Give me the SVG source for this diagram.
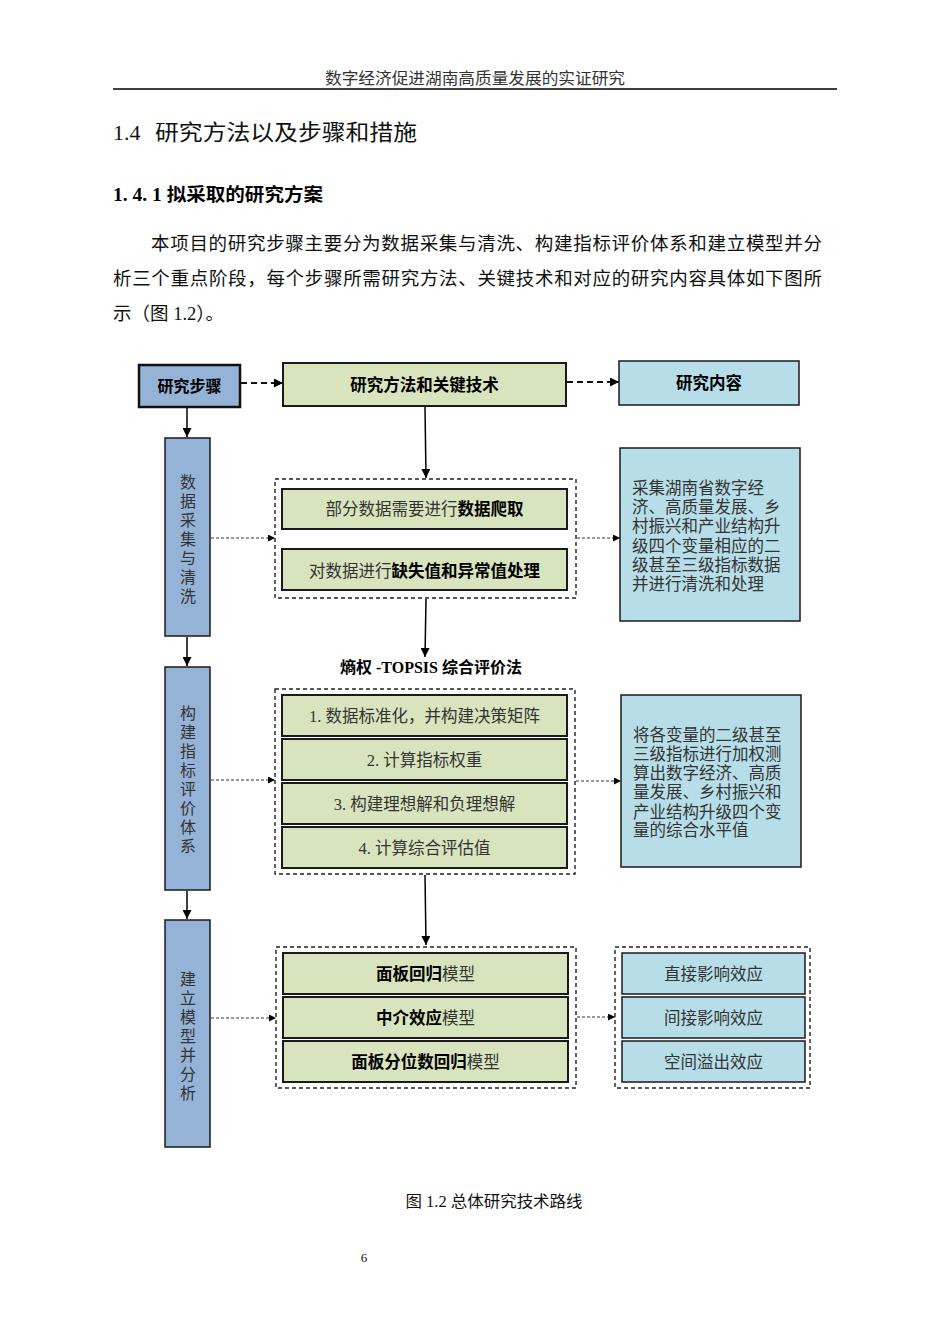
<svg xmlns="http://www.w3.org/2000/svg" width="950" height="1344" viewBox="0 0 950 1344">
<defs>
<style>
.t{font-family:"Liberation Serif","Noto Sans CJK SC",serif;fill:#111}
.b{font-family:"Liberation Serif","Noto Sans CJK SC",sans-serif;font-weight:bold;fill:#000}
.n{font-family:"Liberation Serif","Noto Sans CJK SC",serif;fill:#333}
.step{fill:#95B3D7;stroke:#1a1a1a;stroke-width:1.5}
.hdr{stroke:#111;stroke-width:2.5}
.green{fill:#D7E4BD;stroke:#1a1a1a;stroke-width:2}
.cyan{fill:#B7DEE8;stroke:#1a1a1a;stroke-width:1.5}
.grp{fill:none;stroke:#222;stroke-width:1.4;stroke-dasharray:4 3}
.solid{stroke:#000;stroke-width:1.5;fill:none}
.dash{stroke:#111;stroke-width:2;stroke-dasharray:6 4;fill:none}
.dot{stroke:#333;stroke-width:1.1;stroke-dasharray:3 2;fill:none}
</style>
<marker id="ah" viewBox="0 0 10 10" refX="10" refY="5" markerWidth="7" markerHeight="7" markerUnits="userSpaceOnUse" orient="auto"><path d="M0,0L10,5L0,10z" fill="#000"/></marker>
<marker id="ah2" viewBox="0 0 10 10" refX="10" refY="5" markerWidth="9" markerHeight="9" markerUnits="userSpaceOnUse" orient="auto"><path d="M0,0L10,5L0,10z" fill="#000"/></marker>
</defs>
<rect width="950" height="1344" fill="#fff"/>

<g id="page">
<text class="n" x="475" y="84" font-size="16" text-anchor="middle" textLength="300" lengthAdjust="spacingAndGlyphs">数字经济促进湖南高质量发展的实证研究</text>
<line x1="113" y1="89" x2="837" y2="89" stroke="#000" stroke-width="1.5"/>
<text class="t" x="113" y="140" font-size="22">1.4</text>
<text class="t" x="155" y="140" font-size="22" textLength="262" lengthAdjust="spacingAndGlyphs">研究方法以及步骤和措施</text>
<text class="b" x="113" y="201" font-size="18" textLength="210" lengthAdjust="spacingAndGlyphs">1. 4. 1  拟采取的研究方案</text>
<text class="t" x="151" y="250" font-size="18.5" textLength="671" lengthAdjust="spacing">本项目的研究步骤主要分为数据采集与清洗、构建指标评价体系和建立模型并分</text>
<text class="t" x="113" y="285" font-size="18.5" textLength="709" lengthAdjust="spacing">析三个重点阶段，每个步骤所需研究方法、关键技术和对应的研究内容具体如下图所</text>
<text class="t" x="113" y="320" font-size="18.5">示（图 1.2）。</text>
<text class="t" x="494" y="1207" font-size="16" text-anchor="middle" textLength="177" lengthAdjust="spacingAndGlyphs">图 1.2 总体研究技术路线</text>
<text class="t" x="364" y="1262" font-size="13" text-anchor="middle">6</text>
</g>

<g id="connectors">
<line class="dash" x1="241" y1="383" x2="283" y2="383" marker-end="url(#ah2)"/>
<line class="dash" x1="567" y1="382" x2="619" y2="382" marker-end="url(#ah2)"/>
<line class="solid" x1="187" y1="408" x2="187" y2="437" marker-end="url(#ah2)"/>
<line class="solid" x1="187" y1="637" x2="187" y2="666" marker-end="url(#ah2)"/>
<line class="solid" x1="187" y1="891" x2="187" y2="919" marker-end="url(#ah2)"/>
<line class="solid" x1="425" y1="407" x2="426" y2="478" marker-end="url(#ah2)"/>
<line class="solid" x1="426" y1="599" x2="425" y2="657" marker-end="url(#ah2)"/>
<line class="solid" x1="425" y1="875" x2="426" y2="945" marker-end="url(#ah2)"/>
<line class="dot" x1="211" y1="538" x2="275" y2="538" marker-end="url(#ah)"/>
<line class="dot" x1="577" y1="538" x2="620" y2="538" marker-end="url(#ah)"/>
<line class="dot" x1="211" y1="780" x2="275" y2="780" marker-end="url(#ah)"/>
<line class="dot" x1="576" y1="781" x2="621" y2="781" marker-end="url(#ah)"/>
<line class="dot" x1="211" y1="1018" x2="276" y2="1018" marker-end="url(#ah)"/>
<line class="dot" x1="577" y1="1017" x2="615" y2="1017" marker-end="url(#ah)"/>
</g>

<g id="n-steps-head">
<rect class="step hdr" x="139" y="365" width="101" height="42"/>
<text class="b" x="189.5" y="392" font-size="16" text-anchor="middle">研究步骤</text>
</g>
<g id="n-methods-head">
<rect class="green hdr" x="283" y="363" width="283" height="43"/>
<text class="b" x="424.5" y="391" font-size="16.5" text-anchor="middle">研究方法和关键技术</text>
</g>
<g id="n-content-head">
<rect class="cyan hdr" x="619" y="361" width="180" height="44"/>
<text class="b" x="709" y="389" font-size="16.5" text-anchor="middle">研究内容</text>
</g>

<g id="n-step1">
<rect class="step" x="165" y="438" width="45" height="198"/>
<text class="n" x="188" font-size="16" text-anchor="middle"><tspan x="188" y="488">数</tspan><tspan x="188" y="507">据</tspan><tspan x="188" y="526">采</tspan><tspan x="188" y="545">集</tspan><tspan x="188" y="564">与</tspan><tspan x="188" y="583">清</tspan><tspan x="188" y="602">洗</tspan></text>
</g>
<g id="n-step2">
<rect class="step" x="165" y="667" width="45" height="223"/>
<text class="n" x="188" font-size="16" text-anchor="middle"><tspan x="188" y="719">构</tspan><tspan x="188" y="738">建</tspan><tspan x="188" y="757">指</tspan><tspan x="188" y="776">标</tspan><tspan x="188" y="795">评</tspan><tspan x="188" y="814">价</tspan><tspan x="188" y="833">体</tspan><tspan x="188" y="852">系</tspan></text>
</g>
<g id="n-step3">
<rect class="step" x="165" y="920" width="45" height="227"/>
<text class="n" x="188" font-size="16" text-anchor="middle"><tspan x="188" y="985">建</tspan><tspan x="188" y="1004">立</tspan><tspan x="188" y="1023">模</tspan><tspan x="188" y="1042">型</tspan><tspan x="188" y="1061">并</tspan><tspan x="188" y="1080">分</tspan><tspan x="188" y="1099">析</tspan></text>
</g>

<g id="n-group1">
<rect class="grp" x="275" y="479" width="301" height="119"/>
<rect class="green" x="282" y="489" width="285" height="40"/>
<text class="n" x="424.5" y="515" font-size="16.5" text-anchor="middle">部分数据需要进行<tspan class="b">数据爬取</tspan></text>
<rect class="green" x="282" y="549" width="285" height="41"/>
<text class="n" x="424.5" y="577" font-size="16.5" text-anchor="middle">对数据进行<tspan class="b">缺失值和异常值处理</tspan></text>
</g>
<g id="n-content1">
<rect class="cyan" x="620" y="448" width="180" height="173"/>
<text class="n" font-size="16.5"><tspan x="632" y="494">采集湖南省数字经</tspan><tspan x="632" y="513">济、高质量发展、乡</tspan><tspan x="632" y="532">村振兴和产业结构升</tspan><tspan x="632" y="552">级四个变量相应的二</tspan><tspan x="632" y="571">级甚至三级指标数据</tspan><tspan x="632" y="590">并进行清洗和处理</tspan></text>
</g>

<g id="n-topsis-label">
<text class="b" x="431" y="673" font-size="16" text-anchor="middle">熵权 -TOPSIS 综合评价法</text>
</g>
<g id="n-group2">
<rect class="grp" x="275" y="689" width="300" height="185"/>
<rect class="green" x="282" y="695" width="285" height="41"/>
<text class="n" x="424.5" y="722" font-size="16.5" text-anchor="middle">1. 数据标准化，并构建决策矩阵</text>
<rect class="green" x="282" y="739" width="285" height="41"/>
<text class="n" x="424.5" y="766" font-size="16.5" text-anchor="middle">2. 计算指标权重</text>
<rect class="green" x="282" y="783" width="285" height="41"/>
<text class="n" x="424.5" y="810" font-size="16.5" text-anchor="middle">3. 构建理想解和负理想解</text>
<rect class="green" x="282" y="827" width="285" height="41"/>
<text class="n" x="424.5" y="854" font-size="16.5" text-anchor="middle">4. 计算综合评估值</text>
</g>
<g id="n-content2">
<rect class="cyan" x="621" y="695" width="180" height="172"/>
<text class="n" font-size="16.5"><tspan x="633" y="741">将各变量的二级甚至</tspan><tspan x="633" y="760">三级指标进行加权测</tspan><tspan x="633" y="779">算出数字经济、高质</tspan><tspan x="633" y="798">量发展、乡村振兴和</tspan><tspan x="633" y="818">产业结构升级四个变</tspan><tspan x="633" y="836">量的综合水平值</tspan></text>
</g>

<g id="n-group3">
<rect class="grp" x="276" y="947" width="300" height="141"/>
<rect class="green" x="283" y="953" width="285" height="41"/>
<text class="n" x="425.5" y="980" font-size="16.5" text-anchor="middle"><tspan class="b">面板回归</tspan>模型</text>
<rect class="green" x="283" y="997" width="285" height="41"/>
<text class="n" x="425.5" y="1024" font-size="16.5" text-anchor="middle"><tspan class="b">中介效应</tspan>模型</text>
<rect class="green" x="283" y="1041" width="285" height="41"/>
<text class="n" x="425.5" y="1068" font-size="16.5" text-anchor="middle"><tspan class="b">面板分位数回归</tspan>模型</text>
</g>
<g id="n-group4">
<rect class="grp" x="615" y="947" width="195" height="141"/>
<rect class="cyan" x="622" y="953" width="183" height="41"/>
<text class="n" x="713.5" y="980" font-size="16.5" text-anchor="middle">直接影响效应</text>
<rect class="cyan" x="622" y="997" width="183" height="41"/>
<text class="n" x="713.5" y="1024" font-size="16.5" text-anchor="middle">间接影响效应</text>
<rect class="cyan" x="622" y="1041" width="183" height="41"/>
<text class="n" x="713.5" y="1068" font-size="16.5" text-anchor="middle">空间溢出效应</text>
</g>
</svg>
